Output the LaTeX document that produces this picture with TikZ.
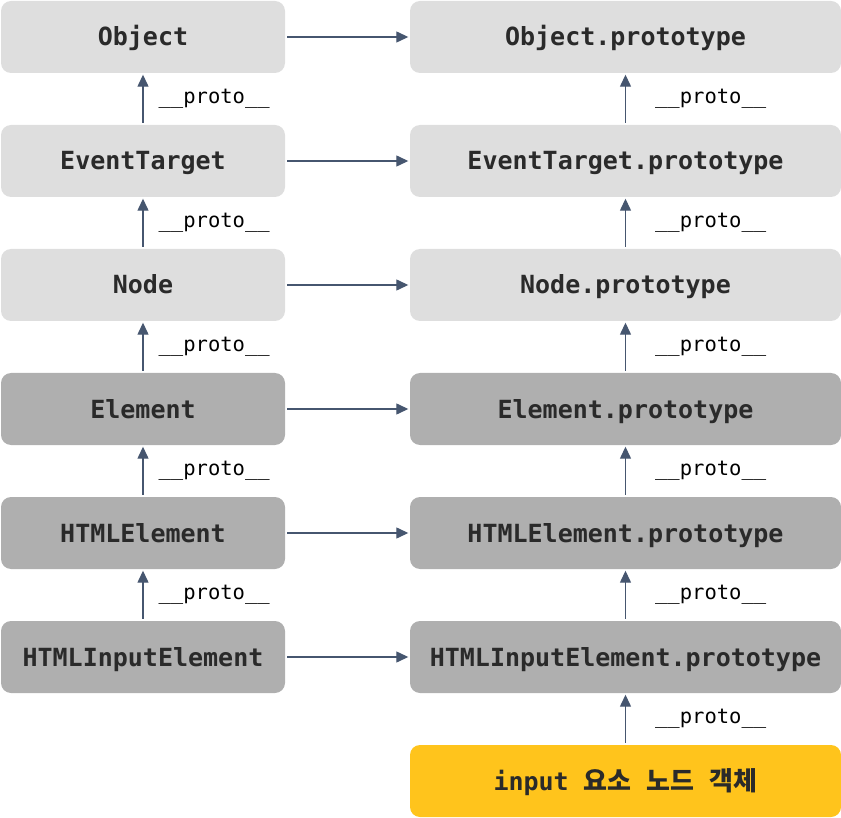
\documentclass[tikz,border=0pt]{standalone}
\usepackage{fontspec}
\setmonofont{DejaVu Sans Mono}
\newfontfamily\krfont{Noto Sans CJK KR}
\usepackage{tikz}
\usetikzlibrary{arrows.meta}

\definecolor{boxlight}{HTML}{DEDEDE}
\definecolor{boxdark}{HTML}{AFAFAF}
\definecolor{boxyellow}{HTML}{FFC41C}
\definecolor{linkblue}{HTML}{46566F}
\definecolor{textdark}{HTML}{2A2A2A}

\begin{document}
\begin{tikzpicture}
        [
            x = 1pt, y = -1pt,
            box/.style = {rounded corners = 10pt, inner sep = 0pt, minimum height = 72pt,
                text height = 22pt, text depth = 4pt,
                text = textdark, font = \ttfamily\bfseries\fontsize{25}{29}\selectfont},
            ctor/.style = {box, minimum width = 284pt},
            proto/.style = {box, minimum width = 431pt},
            light/.style = {fill = boxlight},
            dark/.style = {fill = boxdark},
            link/.style = {draw = linkblue, line width = 1.3pt,
                -{Triangle[length = 12pt, width = 11pt]}, shorten < = 2pt, shorten > = 1.5pt},
            protolabel/.style = {inner sep = 0pt, anchor = west, text = black,
                font = \ttfamily\fontsize{20.5}{24}\selectfont}
        ]

        \useasboundingbox (0,0) rectangle (841,818);

        % constructors
        \node[ctor, light] (object) at (143,37) {Object};
        \node[ctor, light] (target) at (143,161) {EventTarget};
        \node[ctor, light] (node) at (143,285) {Node};
        \node[ctor, dark] (element) at (143,409) {Element};
        \node[ctor, dark] (html) at (143,533) {HTMLElement};
        \node[ctor, dark] (input) at (143,657) {HTMLInputElement};

        % prototypes
        \node[proto, light] (objectproto) at (625.5,37) {Object.prototype};
        \node[proto, light] (targetproto) at (625.5,161) {EventTarget.prototype};
        \node[proto, light] (nodeproto) at (625.5,285) {Node.prototype};
        \node[proto, dark] (elementproto) at (625.5,409) {Element.prototype};
        \node[proto, dark] (htmlproto) at (625.5,533) {HTMLElement.prototype};
        \node[proto, dark] (inputproto) at (625.5,657) {HTMLInputElement.prototype};
        \node[proto, fill = boxyellow] (inputobj) at (625.5,781)
            {input {\krfont\bfseries\fontsize{26}{29}\selectfont 요소} {\krfont\bfseries\fontsize{26}{29}\selectfont 노드}
             {\krfont\bfseries\fontsize{26}{29}\selectfont 객체}};

        % constructor -> prototype
        \foreach \c in {object, target, node, element, html, input}
            \draw[link] (\c) -- (\c proto);

        % __proto__ chains
        \foreach \a/\b in {target/object, node/target, element/node, html/element, input/html}
            \draw[link] (\a) -- node[protolabel, xshift = 15pt] {\_\_proto\_\_} (\b);
        \foreach \a/\b in {targetproto/objectproto, nodeproto/targetproto, elementproto/nodeproto,
                htmlproto/elementproto, inputproto/htmlproto, inputobj/inputproto}
            \draw[link] (\a) -- node[protolabel, xshift = 29pt] {\_\_proto\_\_} (\b);
\end{tikzpicture}
\end{document}
